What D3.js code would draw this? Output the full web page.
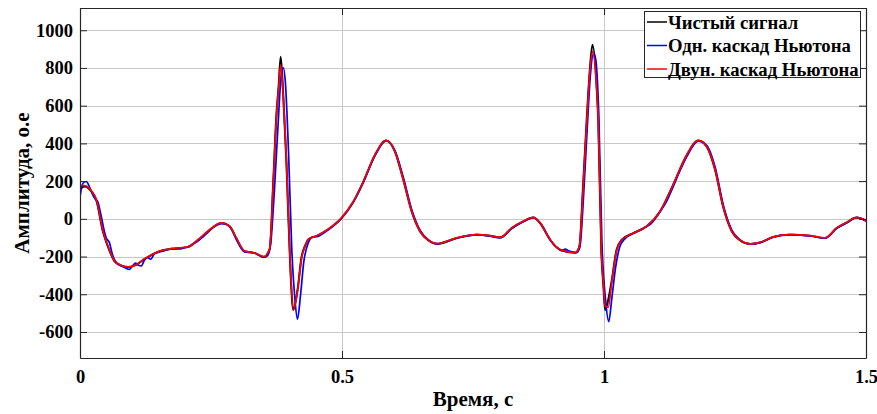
<!DOCTYPE html>
<html>
<head>
<meta charset="utf-8">
<script src="https://cdn.jsdelivr.net/npm/d3@7"></script>
<style>
  html, body { margin: 0; padding: 0; background: #fff; }
  svg { display: block; }
  text { font-family: "Liberation Serif", "Times New Roman", serif; font-weight: bold; fill: #000; }
</style>
</head>
<body>
<svg id="chart" width="877" height="414"></svg>
<script>
// ---------- DATA ----------
const seriesNames = ["Чистый сигнал", "Одн. каскад Ньютона", "Двун. каскад Ньютона"];
const xTicks = [0, 0.5, 1, 1.5];
const xTickLabels = ["0", "0.5", "1", "1.5"];
const yTicks = [-600, -400, -200, 0, 200, 400, 600, 800, 1000];
const yTickLabels = ["-600", "-400", "-200", "0", "200", "400", "600", "800", "1000"];

// time (s) for clean and two-stage series
const tClean = [0, 0.009, 0.022, 0.031, 0.044, 0.053, 0.066, 0.079, 0.092, 0.107, 0.123, 0.149, 0.181, 0.206, 0.225, 0.244, 0.27, 0.286, 0.298, 0.314, 0.333, 0.351, 0.362, 0.369, 0.375, 0.379, 0.383, 0.388, 0.394, 0.401, 0.407, 0.415, 0.423, 0.43, 0.436, 0.452, 0.474, 0.499, 0.522, 0.541, 0.563, 0.584, 0.601, 0.617, 0.633, 0.649, 0.665, 0.681, 0.719, 0.757, 0.782, 0.802, 0.824, 0.846, 0.865, 0.878, 0.897, 0.916, 0.945, 0.953, 0.96, 0.967, 0.973, 0.978, 0.986, 0.989, 0.995, 0.999, 1.002, 1.008, 1.015, 1.024, 1.034, 1.056, 1.081, 1.107, 1.132, 1.158, 1.18, 1.196, 1.212, 1.228, 1.244, 1.26, 1.279, 1.298, 1.323, 1.355, 1.393, 1.422, 1.444, 1.463, 1.482, 1.5];
const vClean = [160, 172, 145, 100, -70, -145, -225, -248, -256, -244, -214, -175, -157, -150, -113, -67, -22, -41, -102, -172, -182, -202, -160, 207, 560, 700, 860, 650, 295, -235, -483, -380, -200, -140, -108, -90, -55, 4, 92, 198, 339, 415, 357, 207, 39, -67, -115, -133, -102, -85, -90, -99, -49, -14, 7, -23, -111, -164, -180, -147, 171, 525, 790, 923, 700, 525, -182, -360, -483, -430, -324, -164, -111, -76, -41, 39, 180, 339, 415, 383, 260, 57, -67, -115, -134, -126, -97, -85, -90, -102, -49, -20, 7, -11];
const vTwo = [178, 176, 148, 104, -66, -142, -223, -247, -255, -243, -212, -174, -156, -149, -111, -66, -21, -40, -100, -170, -181, -200, -158, 200, 545, 690, 817, 640, 300, -225, -483, -385, -205, -142, -109, -90, -54, 5, 93, 199, 340, 416, 358, 208, 40, -66, -114, -132, -101, -84, -89, -98, -48, -13, 8, -22, -110, -163, -179, -146, 160, 510, 780, 887, 690, 530, -170, -350, -462, -470, -330, -168, -112, -76, -40, 40, 181, 340, 416, 384, 262, 58, -66, -114, -133, -125, -96, -84, -89, -101, -48, -19, 8, -10];

// time (s) and values for one-stage series
const tOne = [0, 0.006, 0.012, 0.018, 0.024, 0.029, 0.034, 0.04, 0.046, 0.05, 0.056, 0.062, 0.07, 0.079, 0.088, 0.094, 0.1, 0.106, 0.111, 0.117, 0.123, 0.129, 0.135, 0.142, 0.149, 0.16, 0.175, 0.19, 0.2, 0.206, 0.213, 0.225, 0.235, 0.244, 0.257, 0.27, 0.28, 0.29, 0.298, 0.306, 0.314, 0.333, 0.351, 0.358, 0.364, 0.371, 0.378, 0.384, 0.388, 0.392, 0.398, 0.404, 0.41, 0.415, 0.421, 0.427, 0.436, 0.445, 0.452, 0.46, 0.474, 0.499, 0.522, 0.541, 0.563, 0.584, 0.601, 0.617, 0.633, 0.649, 0.665, 0.681, 0.719, 0.757, 0.782, 0.802, 0.824, 0.846, 0.865, 0.878, 0.897, 0.905, 0.912, 0.92, 0.926, 0.932, 0.94, 0.947, 0.954, 0.961, 0.968, 0.974, 0.98, 0.984, 0.99, 0.996, 1.003, 1.009, 1.015, 1.022, 1.03, 1.04, 1.056, 1.08, 1.09, 1.107, 1.12, 1.132, 1.145, 1.158, 1.18, 1.196, 1.212, 1.228, 1.244, 1.26, 1.279, 1.298, 1.323, 1.355, 1.393, 1.422, 1.444, 1.463, 1.482, 1.5];
const vOne = [118, 190, 198, 170, 130, 105, 90, 20, -60, -100, -125, -190, -235, -250, -262, -268, -250, -235, -245, -250, -220, -205, -215, -185, -178, -170, -158, -160, -152, -148, -137, -118, -95, -72, -40, -25, -30, -60, -108, -150, -175, -180, -205, -195, -130, 150, 500, 760, 800, 720, 350, -150, -420, -532, -400, -230, -125, -95, -95, -85, -58, 2, 90, 195, 335, 413, 362, 220, 50, -60, -112, -132, -103, -84, -92, -100, -52, -16, 6, -20, -108, -140, -155, -170, -160, -170, -175, -180, -150, 120, 480, 760, 879, 850, 560, -120, -430, -545, -420, -260, -150, -105, -78, -42, -25, 38, 95, 170, 255, 330, 412, 390, 275, 70, -60, -112, -134, -126, -96, -84, -91, -103, -50, -22, 6, -12];

const seriesColors = ["#000000", "#0000ff", "#ff0000"];

// ---------- CHART ----------
const svg = d3.select("#chart");
const L = 80, R = 866, T = 8, B = 358;

const x = d3.scaleLinear().domain([0, 1.5]).range([L, R]);
const y = d3.scaleLinear().domain([-738, 1118]).range([B, T]);

// grid
const grid = svg.append("g").attr("stroke", "#c8c8c8").attr("stroke-width", 1);
grid.selectAll("line.gy").data(yTicks).join("line")
  .attr("x1", L).attr("x2", R)
  .attr("y1", d => Math.round(y(d)) + 0.5).attr("y2", d => Math.round(y(d)) + 0.5);
grid.selectAll("line.gx").data(xTicks.filter(d => d > 0 && d < 1.5)).join("line")
  .attr("y1", T).attr("y2", B)
  .attr("x1", d => Math.round(x(d)) + 0.5).attr("x2", d => Math.round(x(d)) + 0.5);

// series
const datasets = [
  tClean.map((t, i) => [t, vClean[i]]),
  tOne.map((t, i) => [t, vOne[i]]),
  tClean.map((t, i) => [t, vTwo[i]])
];
const line = d3.line().x(d => x(d[0])).y(d => y(d[1])).curve(d3.curveMonotoneX);
const plot = svg.append("g");
plot.append("clipPath").attr("id", "clip").append("rect")
  .attr("x", L).attr("y", T).attr("width", R - L).attr("height", B - T);
const widths = [2, 1.7, 1.7];
datasets.forEach((ds, i) => {
  plot.append("path").datum(ds)
    .attr("clip-path", "url(#clip)")
    .attr("fill", "none")
    .attr("stroke", seriesColors[i])
    .attr("stroke-width", widths[i])
    .attr("stroke-linejoin", "round")
    .attr("d", line);
});

// axes
const axisColor = "#262626";
function styleAxis(g) {
  g.select(".domain").attr("stroke", axisColor).attr("stroke-width", 1.2);
  g.selectAll(".tick line").attr("stroke", axisColor).attr("stroke-width", 1);
  g.selectAll(".tick text").style("font-size", "18.5px").style("font-weight", "bold")
    .style("font-family", '"Liberation Serif", "Times New Roman", serif').attr("fill", "#000");
}
const yAxis = d3.axisLeft(y).tickValues(yTicks).tickFormat((d, i) => yTickLabels[i]).tickSize(-7).tickPadding(7).tickSizeOuter(0);
svg.append("g").attr("transform", `translate(${L},0)`).call(yAxis).call(styleAxis);
const yAxisR = d3.axisRight(y).tickValues(yTicks).tickFormat("").tickSize(-7).tickSizeOuter(0);
svg.append("g").attr("transform", `translate(${R},0)`).call(yAxisR).call(styleAxis);
const xAxis = d3.axisBottom(x).tickValues(xTicks).tickFormat((d, i) => xTickLabels[i]).tickSize(-7).tickPadding(12).tickSizeOuter(0);
svg.append("g").attr("transform", `translate(0,${B})`).call(xAxis).call(styleAxis);
const xAxisT = d3.axisTop(x).tickValues(xTicks).tickFormat("").tickSize(-7).tickSizeOuter(0);
svg.append("g").attr("transform", `translate(0,${T})`).call(xAxisT).call(styleAxis);

// axis titles
svg.append("text").attr("x", (L + R) / 2).attr("y", 406)
  .attr("text-anchor", "middle").style("font-size", "21px").text("Время, с");
svg.append("text").attr("transform", `translate(29,${(T + B) / 2}) rotate(-90)`)
  .attr("text-anchor", "middle").style("font-size", "21px").text("Амплитуда, о.е");

// legend
const lg = svg.append("g");
lg.append("rect").attr("x", 644.5).attr("y", 11.5).attr("width", 216).attr("height", 66)
  .attr("fill", "#fff").attr("stroke", axisColor).attr("stroke-width", 1);
const rowY = [22, 45.5, 69];
seriesNames.forEach((name, i) => {
  lg.append("line").attr("x1", 647).attr("x2", 667).attr("y1", rowY[i]).attr("y2", rowY[i])
    .attr("stroke", seriesColors[i]).attr("stroke-width", 1.5);
  lg.append("text").attr("x", 668).attr("y", rowY[i] + 6.5)
    .style("font-size", "18.7px").text(name);
});
</script>
</body>
</html>
